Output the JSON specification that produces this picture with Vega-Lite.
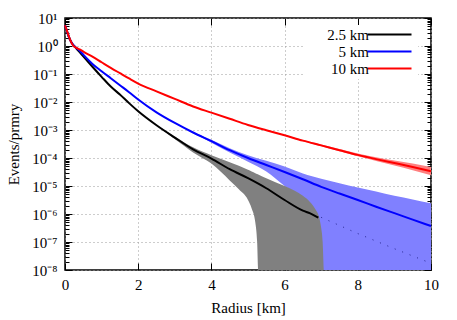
{
 "$schema": "https://vega.github.io/schema/vega-lite/v6.json",
 "width": 366, "height": 252,
 "autosize": {"type": "none"},
 "padding": {"left": 65, "top": 18, "right": 26, "bottom": 50},
 "background": "white",
 "config": {
  "font": "Liberation Serif",
  "view": {"stroke": "black", "strokeWidth": 1.5},
  "axis": {"labelColor": "black", "titleColor": "black", "titleFontWeight": "normal", "labelFontSize": 15, "titleFontSize": 15, "tickColor": "black", "tickWidth": 1, "domain": false, "labelOverlap": false, "labelFlush": false, "labelBound": false, "gridColor": "#9a9a9a", "gridDash": [1, 3], "gridWidth": 1}
 },
 "datasets": {
  "curves": [
   {"series": "2.5 km", "r": 0, "v": 5.5}, {"series": "2.5 km", "r": 0.05, "v": 3.5}, {"series": "2.5 km", "r": 0.1, "v": 2.2}, {"series": "2.5 km", "r": 0.15, "v": 1.55}, {"series": "2.5 km", "r": 0.2, "v": 1.2}, {"series": "2.5 km", "r": 0.25, "v": 1.0}, {"series": "2.5 km", "r": 0.3, "v": 0.851}, {"series": "2.5 km", "r": 0.4, "v": 0.603}, {"series": "2.5 km", "r": 0.5, "v": 0.427}, {"series": "2.5 km", "r": 0.75, "v": 0.182}, {"series": "2.5 km", "r": 1, "v": 0.0794}, {"series": "2.5 km", "r": 1.25, "v": 0.0355}, {"series": "2.5 km", "r": 1.5, "v": 0.0186}, {"series": "2.5 km", "r": 1.75, "v": 0.00912}, {"series": "2.5 km", "r": 2, "v": 0.00468}, {"series": "2.5 km", "r": 2.5, "v": 0.00148}, {"series": "2.5 km", "r": 3, "v": 5.37e-4}, {"series": "2.5 km", "r": 3.5, "v": 2.04e-4}, {"series": "2.5 km", "r": 4, "v": 9.55e-5}, {"series": "2.5 km", "r": 4.5, "v": 3.98e-5}, {"series": "2.5 km", "r": 5, "v": 1.905e-5}, {"series": "2.5 km", "r": 5.5, "v": 8.32e-6}, {"series": "2.5 km", "r": 6, "v": 3.16e-6}, {"series": "2.5 km", "r": 6.5, "v": 1.32e-6}, {"series": "2.5 km", "r": 6.7, "v": 1.05e-6}, {"series": "2.5 km", "r": 6.92, "v": 7.41e-7},
   {"series": "5 km", "r": 0, "v": 5.5}, {"series": "5 km", "r": 0.05, "v": 3.5}, {"series": "5 km", "r": 0.1, "v": 2.2}, {"series": "5 km", "r": 0.15, "v": 1.55}, {"series": "5 km", "r": 0.2, "v": 1.2}, {"series": "5 km", "r": 0.25, "v": 1.0}, {"series": "5 km", "r": 0.3, "v": 0.871}, {"series": "5 km", "r": 0.4, "v": 0.676}, {"series": "5 km", "r": 0.5, "v": 0.49}, {"series": "5 km", "r": 0.75, "v": 0.229}, {"series": "5 km", "r": 1, "v": 0.126}, {"series": "5 km", "r": 1.25, "v": 0.0708}, {"series": "5 km", "r": 1.5, "v": 0.0398}, {"series": "5 km", "r": 1.75, "v": 0.0224}, {"series": "5 km", "r": 2, "v": 0.0123}, {"series": "5 km", "r": 2.5, "v": 0.00427}, {"series": "5 km", "r": 3, "v": 0.00178}, {"series": "5 km", "r": 3.5, "v": 8.13e-4}, {"series": "5 km", "r": 4, "v": 3.98e-4}, {"series": "5 km", "r": 4.5, "v": 1.905e-4}, {"series": "5 km", "r": 5, "v": 1.0e-4}, {"series": "5 km", "r": 5.5, "v": 5.62e-5}, {"series": "5 km", "r": 6, "v": 3.16e-5}, {"series": "5 km", "r": 6.5, "v": 1.74e-5}, {"series": "5 km", "r": 7, "v": 9.33e-6}, {"series": "5 km", "r": 7.5, "v": 5.37e-6}, {"series": "5 km", "r": 8, "v": 3.16e-6}, {"series": "5 km", "r": 8.5, "v": 1.82e-6}, {"series": "5 km", "r": 9, "v": 1.07e-6}, {"series": "5 km", "r": 9.5, "v": 6.31e-7}, {"series": "5 km", "r": 10, "v": 3.72e-7},
   {"series": "10 km", "r": 0, "v": 5.5}, {"series": "10 km", "r": 0.05, "v": 3.6}, {"series": "10 km", "r": 0.1, "v": 2.3}, {"series": "10 km", "r": 0.15, "v": 1.55}, {"series": "10 km", "r": 0.2, "v": 1.15}, {"series": "10 km", "r": 0.25, "v": 0.955}, {"series": "10 km", "r": 0.3, "v": 0.871}, {"series": "10 km", "r": 0.4, "v": 0.759}, {"series": "10 km", "r": 0.5, "v": 0.631}, {"series": "10 km", "r": 0.75, "v": 0.417}, {"series": "10 km", "r": 1, "v": 0.263}, {"series": "10 km", "r": 1.25, "v": 0.166}, {"series": "10 km", "r": 1.5, "v": 0.107}, {"series": "10 km", "r": 1.75, "v": 0.0692}, {"series": "10 km", "r": 2, "v": 0.0457}, {"series": "10 km", "r": 2.5, "v": 0.024}, {"series": "10 km", "r": 3, "v": 0.0129}, {"series": "10 km", "r": 3.5, "v": 0.00692}, {"series": "10 km", "r": 4, "v": 0.00417}, {"series": "10 km", "r": 4.5, "v": 0.00251}, {"series": "10 km", "r": 5, "v": 0.00151}, {"series": "10 km", "r": 5.5, "v": 9.77e-4}, {"series": "10 km", "r": 6, "v": 6.46e-4}, {"series": "10 km", "r": 6.5, "v": 4.17e-4}, {"series": "10 km", "r": 7, "v": 2.82e-4}, {"series": "10 km", "r": 7.5, "v": 1.905e-4}, {"series": "10 km", "r": 8, "v": 1.29e-4}, {"series": "10 km", "r": 8.5, "v": 9.12e-5}, {"series": "10 km", "r": 9, "v": 6.61e-5}, {"series": "10 km", "r": 9.5, "v": 4.79e-5}, {"series": "10 km", "r": 10, "v": 3.39e-5}
  ],
  "bands": [
   {"series": "5 km", "r": 2.5, "lo": 4.2e-3, "hi": 4.35e-3}, {"series": "5 km", "r": 3, "lo": 1.74e-3, "hi": 1.82e-3}, {"series": "5 km", "r": 3.5, "lo": 7.75e-4, "hi": 8.51e-4}, {"series": "5 km", "r": 4, "lo": 3.49e-4, "hi": 4.47e-4}, {"series": "5 km", "r": 4.5, "lo": 1.57e-4, "hi": 2.24e-4}, {"series": "5 km", "r": 5, "lo": 7.4e-5, "hi": 1.26e-4}, {"series": "5 km", "r": 5.5, "lo": 3.3e-5, "hi": 7.94e-5}, {"series": "5 km", "r": 6, "lo": 1.0e-5, "hi": 5.01e-5}, {"series": "5 km", "r": 6.5, "lo": 3e-6, "hi": 2.82e-5}, {"series": "5 km", "r": 6.75, "lo": 1e-9, "hi": 2.24e-5}, {"series": "5 km", "r": 7, "lo": 1e-9, "hi": 1.82e-5}, {"series": "5 km", "r": 7.5, "lo": 1e-9, "hi": 1.26e-5}, {"series": "5 km", "r": 8, "lo": 1e-9, "hi": 8.91e-6}, {"series": "5 km", "r": 8.5, "lo": 1e-9, "hi": 6.31e-6}, {"series": "5 km", "r": 9, "lo": 1e-9, "hi": 4.47e-6}, {"series": "5 km", "r": 9.5, "lo": 1e-9, "hi": 3.31e-6}, {"series": "5 km", "r": 10, "lo": 1e-9, "hi": 2.4e-6},
   {"series": "10 km", "r": 5.5, "lo": 9.6e-4, "hi": 9.9e-4}, {"series": "10 km", "r": 6, "lo": 6.24e-4, "hi": 6.69e-4}, {"series": "10 km", "r": 6.5, "lo": 3.98e-4, "hi": 4.37e-4}, {"series": "10 km", "r": 7, "lo": 2.63e-4, "hi": 3.02e-4}, {"series": "10 km", "r": 7.5, "lo": 1.74e-4, "hi": 2.09e-4}, {"series": "10 km", "r": 8, "lo": 1.15e-4, "hi": 1.45e-4}, {"series": "10 km", "r": 8.5, "lo": 7.85e-5, "hi": 1.06e-4}, {"series": "10 km", "r": 9, "lo": 5.37e-5, "hi": 8.13e-5}, {"series": "10 km", "r": 9.5, "lo": 3.63e-5, "hi": 6.31e-5}, {"series": "10 km", "r": 10, "lo": 2.4e-5, "hi": 4.79e-5},
   {"series": "2.5 km", "r": 2.5, "lo": 1.46e-3, "hi": 1.5e-3}, {"series": "2.5 km", "r": 3, "lo": 4.79e-4, "hi": 5.89e-4}, {"series": "2.5 km", "r": 3.5, "lo": 1.585e-4, "hi": 2.4e-4}, {"series": "2.5 km", "r": 4, "lo": 6.31e-5, "hi": 1.26e-4}, {"series": "2.5 km", "r": 4.5, "lo": 1.585e-5, "hi": 7.08e-5}, {"series": "2.5 km", "r": 4.75, "lo": 7.6e-6, "hi": 5.25e-5}, {"series": "2.5 km", "r": 5, "lo": 3.16e-6, "hi": 3.8e-5}, {"series": "2.5 km", "r": 5.1, "lo": 1.585e-6, "hi": 3.31e-5}, {"series": "2.5 km", "r": 5.2, "lo": 5.0e-7, "hi": 2.88e-5}, {"series": "2.5 km", "r": 5.25, "lo": 1e-7, "hi": 2.69e-5}, {"series": "2.5 km", "r": 5.28, "lo": 1e-9, "hi": 2.57e-5}, {"series": "2.5 km", "r": 5.5, "lo": 1e-9, "hi": 1.905e-5}, {"series": "2.5 km", "r": 6, "lo": 1e-9, "hi": 1.0e-5}, {"series": "2.5 km", "r": 6.25, "lo": 1e-9, "hi": 7.08e-6}, {"series": "2.5 km", "r": 6.5, "lo": 1e-9, "hi": 4.47e-6}, {"series": "2.5 km", "r": 6.7, "lo": 1e-9, "hi": 2.63e-6}, {"series": "2.5 km", "r": 6.85, "lo": 1e-9, "hi": 1.41e-6}, {"series": "2.5 km", "r": 6.95, "lo": 1e-9, "hi": 7.08e-7}, {"series": "2.5 km", "r": 7, "lo": 1e-9, "hi": 3.16e-7}, {"series": "2.5 km", "r": 7.04, "lo": 1e-9, "hi": 1e-7}, {"series": "2.5 km", "r": 7.07, "lo": 1e-9, "hi": 1e-9}
  ],
  "tail": [
   {"r": 7.0, "v": 7.59e-7}, {"r": 8.0, "v": 2.0e-7}, {"r": 9.0, "v": 5.75e-8}, {"r": 10.0, "v": 1.74e-8}
  ]
 },
 "layer": [
  {
   "layer": [
    {
     "data": {"name": "bands"},
     "transform": [{"filter": "datum.series === '5 km'"}],
     "mark": {"type": "area", "fill": "#8080ff", "interpolate": "monotone"},
     "encoding": {
      "x": {"field": "r", "type": "quantitative", "title": "Radius [km]", "scale": {"domain": [0, 10], "nice": false},
       "axis": {"orient": "bottom", "values": [0, 2, 4, 6, 8, 10], "tickSize": -7, "labelPadding": 14, "grid": true, "titlePadding": 8,
        "labelFont": "Liberation Serif", "titleFont": "Liberation Serif"}},
      "y": {"field": "lo", "type": "quantitative", "title": "Events/prmry", "scale": {"type": "log", "domain": [1e-8, 10], "nice": false, "clamp": true},
       "axis": {"orient": "left",
        "values": [1e-8,2e-8,3e-8,4e-8,5e-8,6e-8,7e-8,8e-8,9e-8,1e-7,2e-7,3e-7,4e-7,5e-7,6e-7,7e-7,8e-7,9e-7,1e-6,2e-6,3e-6,4e-6,5e-6,6e-6,7e-6,8e-6,9e-6,1e-5,2e-5,3e-5,4e-5,5e-5,6e-5,7e-5,8e-5,9e-5,1e-4,2e-4,3e-4,4e-4,5e-4,6e-4,7e-4,8e-4,9e-4,0.001,0.002,0.003,0.004,0.005,0.006,0.007,0.008,0.009,0.01,0.02,0.03,0.04,0.05,0.06,0.07,0.08,0.09,0.1,0.2,0.3,0.4,0.5,0.6,0.7,0.8,0.9,1,2,3,4,5,6,7,8,9,10],
        "labelExpr": "abs(log(datum.value)/LN10 - round(log(datum.value)/LN10)) < 0.01 ? ['10⁻⁸','10⁻⁷','10⁻⁶','10⁻⁵','10⁻⁴','10⁻³','10⁻²','10⁻¹','10⁰','10¹'][round(log(datum.value)/LN10) + 8] : ''",
        "tickSize": {"condition": {"test": "abs(log(datum.value)/LN10 - round(log(datum.value)/LN10)) < 0.01", "value": -7}, "value": -4},
        "labelPadding": 15,
        "labelFont": "Liberation Serif", "titleFont": "Liberation Serif",
        "grid": true,
        "gridOpacity": {"condition": {"test": "abs(log(datum.value)/LN10 - round(log(datum.value)/LN10)) < 0.01", "value": 1}, "value": 0},
        "titlePadding": 10}},
      "y2": {"field": "hi"}
     }
    },
    {
     "data": {"name": "bands"},
     "transform": [{"filter": "datum.series === '10 km'"}],
     "mark": {"type": "area", "fill": "#ff8080", "interpolate": "monotone"},
     "encoding": {
      "x": {"field": "r", "type": "quantitative", "title": "Radius [km]"},
      "y": {"field": "lo", "type": "quantitative", "title": "Events/prmry"},
      "y2": {"field": "hi"}
     }
    },
    {
     "data": {"name": "bands"},
     "transform": [{"filter": "datum.series === '2.5 km'"}],
     "mark": {"type": "area", "fill": "#808080", "interpolate": "monotone"},
     "encoding": {
      "x": {"field": "r", "type": "quantitative", "title": "Radius [km]"},
      "y": {"field": "lo", "type": "quantitative", "title": "Events/prmry"},
      "y2": {"field": "hi"}
     }
    },
    {
     "data": {"name": "tail"},
     "mark": {"type": "line", "stroke": "#26268f", "strokeWidth": 1, "strokeDash": [1, 7]},
     "encoding": {
      "x": {"field": "r", "type": "quantitative", "title": "Radius [km]"},
      "y": {"field": "v", "type": "quantitative", "title": "Events/prmry"}
     }
    },
    {
     "data": {"name": "curves"},
     "mark": {"type": "line", "strokeWidth": 2, "interpolate": "monotone"},
     "encoding": {
      "x": {"field": "r", "type": "quantitative", "title": "Radius [km]"},
      "y": {"field": "v", "type": "quantitative", "title": "Events/prmry"},
      "color": {"field": "series", "type": "nominal",
       "scale": {"domain": ["2.5 km", "5 km", "10 km"], "range": ["#000000", "#0000ff", "#ff0000"]},
       "legend": {"title": null, "orient": "none", "legendX": 238, "legendY": 7, "direction": "vertical",
        "symbolType": "M-4.4,0H4.4", "symbolSize": 100, "symbolStrokeWidth": 2, "symbolOffset": 77,
        "labelAlign": "right", "labelOffset": -28, "labelFontSize": 15, "labelFont": "Liberation Serif", "labelColor": "black", "labelLimit": 0,
        "fillColor": "white", "padding": 2, "rowPadding": 1}}
     }
    }
   ]
  },
  {
   "data": {"name": "curves"},
   "mark": {"type": "point", "opacity": 0},
   "encoding": {
    "x": {"field": "r", "type": "quantitative", "scale": {"domain": [0, 10], "nice": false},
     "axis": {"orient": "top", "values": [0, 2, 4, 6, 8, 10], "tickSize": -7, "labels": false, "grid": false, "title": null}},
    "y": {"field": "v", "type": "quantitative", "scale": {"type": "log", "domain": [1e-8, 10], "nice": false, "clamp": true},
     "axis": {"orient": "right",
      "values": [1e-8,2e-8,3e-8,4e-8,5e-8,6e-8,7e-8,8e-8,9e-8,1e-7,2e-7,3e-7,4e-7,5e-7,6e-7,7e-7,8e-7,9e-7,1e-6,2e-6,3e-6,4e-6,5e-6,6e-6,7e-6,8e-6,9e-6,1e-5,2e-5,3e-5,4e-5,5e-5,6e-5,7e-5,8e-5,9e-5,1e-4,2e-4,3e-4,4e-4,5e-4,6e-4,7e-4,8e-4,9e-4,0.001,0.002,0.003,0.004,0.005,0.006,0.007,0.008,0.009,0.01,0.02,0.03,0.04,0.05,0.06,0.07,0.08,0.09,0.1,0.2,0.3,0.4,0.5,0.6,0.7,0.8,0.9,1,2,3,4,5,6,7,8,9,10],
      "tickSize": {"condition": {"test": "abs(log(datum.value)/LN10 - round(log(datum.value)/LN10)) < 0.01", "value": -7}, "value": -4},
      "labels": false, "grid": false, "title": null}}
   }
  }
 ],
 "resolve": {"scale": {"x": "independent", "y": "independent"}}
}
